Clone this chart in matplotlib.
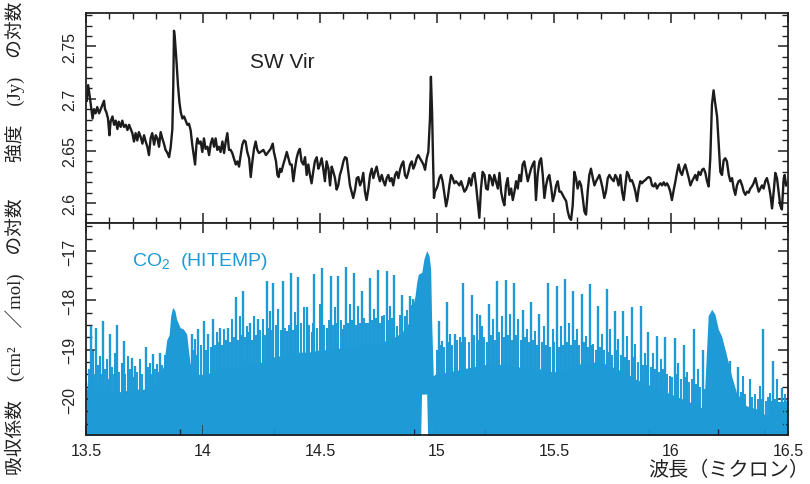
import matplotlib
matplotlib.use("Agg")
import matplotlib.pyplot as plt
from matplotlib.ticker import MultipleLocator

plt.rcParams["font.family"] = ["Liberation Sans", "Noto Sans CJK JP"]
plt.rcParams["mathtext.fontset"] = "custom"
plt.rcParams["mathtext.rm"] = "Liberation Sans"
plt.rcParams["mathtext.it"] = "Liberation Sans"

# ---------------- SW Vir spectrum (log intensity) ----------------
swvir_wavelength = [
    13.503, 13.509, 13.516, 13.523, 13.528, 13.534, 13.541, 13.548, 13.556, 13.563,
    13.570, 13.577, 13.581, 13.587, 13.594, 13.600, 13.605, 13.613, 13.620, 13.627,
    13.634, 13.640, 13.648, 13.655, 13.662, 13.670, 13.677, 13.684, 13.691, 13.698,
    13.705, 13.712, 13.719, 13.726, 13.734, 13.741, 13.748, 13.755, 13.762, 13.769,
    13.776, 13.783, 13.791, 13.798, 13.805, 13.812, 13.819, 13.826, 13.833, 13.840,
    13.848, 13.855, 13.862, 13.869, 13.873, 13.876, 13.880, 13.886, 13.893, 13.899,
    13.905, 13.912, 13.919, 13.926, 13.933, 13.940, 13.947, 13.954, 13.962, 13.966,
    13.972, 13.976, 13.983, 13.990, 13.997, 14.004, 14.011, 14.019, 14.026, 14.033,
    14.040, 14.047, 14.054, 14.061, 14.068, 14.075, 14.083, 14.090, 14.097, 14.104,
    14.111, 14.118, 14.125, 14.132, 14.140, 14.147, 14.154, 14.161, 14.168, 14.175,
    14.182, 14.189, 14.197, 14.204, 14.211, 14.218, 14.225, 14.232, 14.239, 14.246,
    14.258, 14.269, 14.279, 14.289, 14.298, 14.303, 14.312, 14.318, 14.323, 14.329,
    14.335, 14.343, 14.351, 14.358, 14.365, 14.372, 14.379, 14.386, 14.393, 14.400,
    14.407, 14.414, 14.421, 14.429, 14.436, 14.443, 14.450, 14.457, 14.464, 14.471,
    14.478, 14.486, 14.493, 14.500, 14.507, 14.514, 14.521, 14.528, 14.536, 14.543,
    14.550, 14.557, 14.564, 14.571, 14.578, 14.585, 14.593, 14.600, 14.607, 14.614,
    14.621, 14.628, 14.635, 14.642, 14.650, 14.657, 14.664, 14.671, 14.678, 14.685,
    14.692, 14.699, 14.707, 14.714, 14.721, 14.728, 14.735, 14.742, 14.749, 14.756,
    14.764, 14.771, 14.778, 14.785, 14.792, 14.799, 14.806, 14.813, 14.821, 14.828,
    14.835, 14.842, 14.849, 14.856, 14.863, 14.870, 14.878, 14.885, 14.892, 14.899,
    14.906, 14.913, 14.920, 14.927, 14.935, 14.942, 14.949, 14.956, 14.963, 14.970,
    14.974, 14.979, 14.983, 14.987, 14.991, 14.998,
    15.003, 15.010, 15.017, 15.024, 15.032, 15.039, 15.046, 15.053, 15.060, 15.067,
    15.074, 15.081, 15.089, 15.096, 15.103, 15.110, 15.117, 15.124, 15.131, 15.138,
    15.146, 15.153, 15.160, 15.167, 15.174, 15.181, 15.188, 15.195, 15.203, 15.210,
    15.217, 15.224, 15.231, 15.238, 15.245, 15.252, 15.260, 15.267, 15.274, 15.281,
    15.288, 15.295, 15.302, 15.309, 15.317, 15.324, 15.331, 15.338, 15.345, 15.352,
    15.359, 15.366, 15.373, 15.381, 15.388, 15.395, 15.402, 15.409, 15.416, 15.423,
    15.430, 15.438, 15.445, 15.452, 15.459, 15.466, 15.473, 15.480, 15.487, 15.495,
    15.502, 15.509, 15.516, 15.523, 15.530, 15.537, 15.544, 15.552, 15.559, 15.566,
    15.573, 15.580, 15.587, 15.594, 15.601, 15.609, 15.616, 15.623, 15.630, 15.637,
    15.644, 15.651, 15.658, 15.666, 15.673, 15.680, 15.687, 15.694, 15.701, 15.708,
    15.715, 15.722, 15.730, 15.737, 15.744,
    15.755, 15.762, 15.769, 15.776, 15.784, 15.791, 15.798, 15.805, 15.812, 15.819,
    15.826, 15.833, 15.841, 15.848, 15.855, 15.862, 15.869, 15.876, 15.883, 15.890,
    15.898, 15.905, 15.912, 15.919, 15.926, 15.933, 15.940, 15.947, 15.955, 15.962,
    15.969, 15.976, 15.983, 15.990, 15.997, 16.004, 16.012, 16.019, 16.026, 16.033,
    16.040, 16.047, 16.054, 16.061, 16.069, 16.076, 16.083, 16.090, 16.097, 16.104,
    16.111, 16.118, 16.126, 16.133, 16.140, 16.147, 16.154, 16.161, 16.168, 16.175,
    16.182, 16.190, 16.197, 16.204, 16.211, 16.218, 16.225, 16.232, 16.239, 16.247,
    16.254, 16.261, 16.268, 16.275, 16.282, 16.289, 16.296, 16.304, 16.311, 16.318,
    16.325, 16.332, 16.339, 16.346, 16.353, 16.361, 16.368, 16.375, 16.382, 16.389,
    16.396, 16.403, 16.410, 16.418, 16.425, 16.432, 16.439, 16.446, 16.453, 16.460,
    16.467, 16.474, 16.482, 16.486, 16.492,
]
swvir_logflux = [
    2.698, 2.713, 2.702, 2.690, 2.681, 2.690, 2.686, 2.692, 2.686, 2.690,
    2.694, 2.698, 2.690, 2.687, 2.681, 2.665, 2.678, 2.683, 2.675, 2.679,
    2.671, 2.678, 2.673, 2.679, 2.673, 2.675, 2.670, 2.675, 2.671, 2.667,
    2.659, 2.667, 2.660, 2.668, 2.663, 2.657, 2.665, 2.659, 2.654, 2.646,
    2.662, 2.667, 2.656, 2.665, 2.662, 2.654, 2.668, 2.662, 2.657, 2.651,
    2.648, 2.644, 2.654, 2.671, 2.713, 2.765, 2.757, 2.738, 2.713, 2.697,
    2.687, 2.681, 2.683, 2.679, 2.675, 2.676, 2.670, 2.656, 2.643, 2.637,
    2.656, 2.662, 2.657, 2.659, 2.649, 2.662, 2.652, 2.654, 2.646, 2.657,
    2.662, 2.654, 2.662, 2.651, 2.654, 2.649, 2.659, 2.648, 2.659, 2.667,
    2.651, 2.651, 2.648, 2.643, 2.637, 2.640, 2.635, 2.646, 2.656, 2.660,
    2.659, 2.649, 2.643, 2.625, 2.640, 2.652, 2.659, 2.651, 2.648, 2.649,
    2.651, 2.646, 2.649, 2.652, 2.657, 2.649, 2.640, 2.627, 2.625, 2.633,
    2.630, 2.637, 2.643, 2.649, 2.643, 2.637, 2.637, 2.621, 2.633, 2.643,
    2.649, 2.652, 2.640, 2.637, 2.644, 2.627, 2.637, 2.627, 2.619, 2.630,
    2.640, 2.644, 2.633, 2.637, 2.643, 2.633, 2.621, 2.640, 2.633, 2.617,
    2.635, 2.630, 2.624, 2.613, 2.617, 2.627, 2.633, 2.640, 2.644, 2.643,
    2.630, 2.617, 2.611, 2.605, 2.613, 2.624, 2.625, 2.617, 2.621, 2.629,
    2.611, 2.603, 2.614, 2.627, 2.633, 2.624, 2.630, 2.635, 2.627, 2.621,
    2.627, 2.621, 2.617, 2.624, 2.627, 2.621, 2.624, 2.617, 2.627, 2.630,
    2.624, 2.632, 2.637, 2.640, 2.627, 2.624, 2.630, 2.637, 2.640, 2.633,
    2.637, 2.643, 2.646, 2.643, 2.640, 2.637, 2.632, 2.643, 2.649, 2.681,
    2.721, 2.687, 2.643, 2.605, 2.611, 2.614,
    2.617, 2.624, 2.627, 2.621, 2.608, 2.597, 2.605, 2.617, 2.627, 2.624,
    2.619, 2.621, 2.619, 2.617, 2.621, 2.616, 2.611, 2.613, 2.617, 2.624,
    2.617, 2.627, 2.629, 2.617, 2.602, 2.586, 2.614, 2.630, 2.627, 2.614,
    2.613, 2.627, 2.624, 2.617, 2.627, 2.621, 2.614, 2.629, 2.611, 2.603,
    2.598, 2.617, 2.624, 2.608, 2.614, 2.603, 2.611, 2.621, 2.614, 2.627,
    2.621, 2.637, 2.640, 2.630, 2.621, 2.627, 2.633, 2.637, 2.640, 2.603,
    2.627, 2.640, 2.643, 2.627, 2.605, 2.617, 2.624, 2.627, 2.617, 2.602,
    2.608, 2.617, 2.621, 2.611, 2.611, 2.608, 2.605, 2.602, 2.592, 2.586,
    2.584, 2.598, 2.630, 2.624, 2.614, 2.621, 2.617, 2.605, 2.592, 2.589,
    2.611, 2.627, 2.633, 2.624, 2.617, 2.621, 2.624, 2.627, 2.621, 2.614,
    2.605, 2.611, 2.624, 2.627, 2.624,
    2.621, 2.627, 2.624, 2.617, 2.627, 2.611, 2.603, 2.617, 2.630, 2.627,
    2.621, 2.622, 2.617, 2.611, 2.602, 2.614, 2.621, 2.619, 2.621, 2.622,
    2.624, 2.625, 2.624, 2.617, 2.616, 2.619, 2.614, 2.617, 2.619, 2.617,
    2.620, 2.617, 2.619, 2.616, 2.611, 2.603, 2.613, 2.621, 2.630, 2.637,
    2.630, 2.627, 2.633, 2.637, 2.630, 2.624, 2.617, 2.621, 2.624, 2.627,
    2.622, 2.630, 2.627, 2.632, 2.633, 2.629, 2.621, 2.616, 2.643, 2.694,
    2.708, 2.694, 2.683, 2.656, 2.630, 2.627, 2.641, 2.643, 2.640, 2.627,
    2.621, 2.624, 2.614, 2.608, 2.617, 2.621, 2.622, 2.617, 2.611, 2.608,
    2.611, 2.610, 2.614, 2.616, 2.619, 2.624, 2.617, 2.611, 2.614, 2.617,
    2.614, 2.621, 2.624, 2.617, 2.608, 2.595, 2.611, 2.629, 2.624, 2.611,
    2.598, 2.594, 2.624, 2.627, 2.617,
]

# ---------------- CO2 line list (HITEMP), log absorption coefficient ----------------
# strongest P/R-branch lines
co2_strong_wavelength = [
    13.520, 13.543, 13.574, 13.603, 13.634, 13.662, 13.695, 13.709, 13.756, 13.788,
    13.816, 13.952, 13.980, 14.004, 14.023, 14.044, 14.073, 14.108, 14.141, 14.172,
    14.201, 14.236, 14.272, 14.301, 14.340, 14.376, 14.407, 14.443, 14.476, 14.510,
    14.546, 14.578, 14.611, 14.645, 14.679, 14.714, 14.749, 14.785, 14.818, 14.852,
    14.885, 15.010, 15.041, 15.077, 15.112, 15.148, 15.184, 15.224, 15.258, 15.295,
    15.329, 15.366, 15.401, 15.437, 15.476, 15.511, 15.547, 15.583, 15.618, 15.654,
    15.689, 15.725, 15.761, 15.796, 15.832, 15.870, 15.903, 15.939, 15.975, 16.017,
    16.056, 16.098, 16.135, 16.252, 16.288, 16.395, 16.437, 16.473,
]
co2_strong_logk = [
    -18.51, -18.55, -18.41, -18.68, -18.50, -18.82, -19.16, -19.33, -18.95, -19.09,
    -19.06, -18.68, -18.58, -18.41, -18.68, -18.38, -18.55, -18.55, -17.94, -17.80,
    -18.45, -18.38, -17.60, -17.64, -17.60, -17.45, -17.53, -18.14, -17.47, -17.35,
    -17.51, -17.51, -17.33, -17.45, -17.80, -17.55, -17.38, -17.41, -17.49, -17.89,
    -17.91, -18.41, -18.04, -18.68, -17.64, -17.89, -18.30, -18.08, -17.60, -17.58,
    -17.65, -18.20, -18.04, -18.28, -17.64, -17.70, -17.57, -17.80, -17.87, -17.67,
    -18.11, -17.77, -18.21, -18.21, -18.14, -18.11, -18.65, -18.72, -18.75, -18.77,
    -18.91, -18.58, -19.01, -19.22, -19.36, -18.58, -19.22, -19.77,
]
# second-tier lines between them
co2_medium_wavelength = [
    13.531, 13.560, 13.588, 13.624, 13.652, 13.681, 13.731, 13.774, 13.802, 13.966,
    14.058, 14.090, 14.123, 14.158, 14.187, 14.218, 14.255, 14.286, 14.322, 14.358,
    14.393, 14.432, 14.464, 14.500, 14.528, 14.564, 14.597, 14.628, 14.664, 14.697,
    14.731, 14.764, 14.799, 14.828, 14.863, 14.899, 15.020, 15.056, 15.098, 15.170,
    15.191, 15.241, 15.276, 15.312, 15.347, 15.383, 15.419, 15.457, 15.494, 15.528,
    15.565, 15.599, 15.637, 15.668, 15.704, 15.739, 15.775, 15.813, 15.846, 15.889,
    15.924, 15.956, 15.996, 16.031, 16.067, 16.117, 16.309, 16.337, 16.380, 16.423,
    16.454,
]
co2_medium_logk = [
    -19.02, -19.12, -19.19, -19.06, -19.26, -19.12, -19.19, -19.26, -19.29, -18.79,
    -18.65, -18.58, -18.38, -18.31, -18.51, -18.31, -18.38, -18.21, -18.18, -18.62,
    -18.24, -18.14, -18.65, -18.08, -18.55, -18.14, -18.58, -18.08, -18.11, -18.45,
    -18.18, -18.31, -18.11, -18.51, -18.31, -17.97, -18.82, -18.68, -18.75, -18.28,
    -18.51, -18.38, -18.31, -18.28, -18.38, -18.58, -18.62, -18.51, -18.58, -18.51,
    -18.45, -18.58, -18.72, -18.89, -18.68, -18.58, -18.79, -18.72, -18.89, -19.06,
    -19.06, -19.19, -19.53, -19.26, -19.46, -19.39, -19.53, -19.60, -19.73, -19.87,
    -19.60,
]
# weaker lines that make up the ragged top of the blend
co2_weak_wavelength = [
    13.512, 13.537, 13.552, 13.567, 13.582, 13.596, 13.612, 13.618, 13.643, 13.668,
    13.688, 13.702, 13.718, 13.740, 13.765, 13.781, 13.795, 13.808, 13.823, 13.838,
    13.958, 13.972, 13.990, 14.012, 14.032, 14.051, 14.065, 14.081, 14.098, 14.115,
    14.131, 14.149, 14.165, 14.180, 14.194, 14.210, 14.226, 14.245, 14.263, 14.279,
    14.294, 14.312, 14.334, 14.349, 14.367, 14.385, 14.400, 14.418, 14.452, 14.470,
    14.488, 14.518, 14.537, 14.555, 14.571, 14.588, 14.604, 14.620, 14.637, 14.654,
    14.672, 14.688, 14.706, 14.722, 14.740, 14.756, 14.775, 14.792, 14.809, 14.840,
    14.870, 14.892, 15.000, 15.015, 15.028, 15.048, 15.066, 15.087, 15.105, 15.120,
    15.136, 15.157, 15.178, 15.200, 15.212, 15.232, 15.250, 15.266, 15.286, 15.304,
    15.320, 15.338, 15.357, 15.374, 15.392, 15.410, 15.428, 15.447, 15.466, 15.484,
    15.502, 15.520, 15.537, 15.556, 15.574, 15.591, 15.609, 15.628, 15.646, 15.661,
    15.679, 15.697, 15.714, 15.732, 15.750, 15.768, 15.786, 15.805, 15.822, 15.840,
    15.857, 15.880, 15.896, 15.914, 15.931, 15.948, 15.966, 15.985, 16.005, 16.024,
    16.042, 16.061, 16.078, 16.088, 16.107, 16.126, 16.145, 16.268, 16.300, 16.318,
    16.345, 16.360, 16.372, 16.388, 16.405, 16.416, 16.430, 16.446, 16.462, 16.488,
]
co2_weak_logk = [
    -19.40, -19.50, -19.30, -19.50, -19.40, -19.60, -19.35, -19.50, -19.45, -19.50,
    -19.40, -19.55, -19.45, -19.50, -19.35, -19.50, -19.40, -19.45, -19.30, -19.10,
    -19.00, -19.10, -18.90, -19.00, -18.95, -18.90, -18.85, -18.90, -18.80, -18.85,
    -18.75, -18.80, -18.70, -18.75, -18.65, -18.80, -18.70, -18.60, -18.70, -18.55,
    -18.60, -18.50, -18.60, -18.55, -18.50, -18.60, -18.50, -18.45, -18.50, -18.45,
    -18.55, -18.50, -18.40, -18.50, -18.45, -18.40, -18.50, -18.45, -18.40, -18.50,
    -18.45, -18.35, -18.45, -18.40, -18.35, -18.45, -18.30, -18.40, -18.35, -18.30,
    -18.20, -18.10, -19.00, -18.90, -18.95, -18.85, -18.90, -18.80, -18.85, -18.75,
    -18.85, -18.70, -18.80, -18.75, -18.85, -18.70, -18.80, -18.65, -18.75, -18.70,
    -18.80, -18.70, -18.80, -18.75, -18.85, -18.80, -18.90, -18.85, -18.90, -18.95,
    -18.85, -18.95, -18.90, -18.85, -18.90, -18.80, -18.90, -18.85, -18.95, -18.90,
    -19.00, -18.95, -19.00, -19.05, -19.10, -19.00, -19.10, -19.15, -19.20, -19.15,
    -19.25, -19.30, -19.30, -19.35, -19.40, -19.45, -19.40, -19.50, -19.55, -19.50,
    -19.60, -19.55, -19.65, -19.60, -19.70, -19.75, -19.80, -19.80, -19.85, -19.90,
    -19.95, -19.90, -20.00, -20.00, -20.05, -19.95, -20.05, -20.00, -20.10, -19.90,
]
# upper edge of the dense blend of faint lines (incl. the three Q branches)
co2_blend_wavelength = [
    13.500, 13.505, 13.550, 13.600, 13.650, 13.700, 13.750, 13.800, 13.830, 13.845,
    13.855, 13.862, 13.870, 13.880, 13.887, 13.902, 13.916, 13.930, 13.944, 13.960,
    14.000, 14.050, 14.100, 14.150, 14.200, 14.250, 14.300, 14.350, 14.400, 14.450,
    14.500, 14.550, 14.600, 14.650, 14.700, 14.750, 14.800, 14.850, 14.880, 14.906,
    14.913, 14.920, 14.935, 14.944, 14.956, 14.966, 14.973, 14.977, 14.984, 14.990,
    15.050, 15.100, 15.150, 15.200, 15.250, 15.300, 15.350, 15.400, 15.450, 15.500,
    15.550, 15.600, 15.650, 15.700, 15.750, 15.800, 15.850, 15.900, 15.950, 16.000,
    16.050, 16.100, 16.140, 16.159, 16.174, 16.188, 16.202, 16.216, 16.231, 16.245,
    16.259, 16.280, 16.323, 16.366, 16.409, 16.437, 16.480, 16.500,
]
co2_blend_logk = [
    -19.45, -19.80, -19.80, -19.85, -19.85, -19.80, -19.80, -19.65, -19.35, -18.80,
    -18.70, -18.31, -18.14, -18.21, -18.38, -18.55, -18.58, -18.68, -19.26, -19.50,
    -19.50, -19.45, -19.40, -19.35, -19.30, -19.25, -19.15, -19.10, -19.05, -19.05,
    -19.00, -19.00, -18.95, -18.95, -18.90, -18.85, -18.80, -18.65, -18.45, -17.91,
    -17.64, -17.47, -17.43, -17.16, -16.99, -17.09, -17.37, -18.38, -19.53, -19.50,
    -19.45, -19.40, -19.35, -19.30, -19.30, -19.30, -19.35, -19.35, -19.40, -19.45,
    -19.40, -19.30, -19.25, -19.25, -19.35, -19.45, -19.60, -19.70, -19.80, -19.90,
    -20.00, -20.10, -20.20, -18.31, -18.18, -18.28, -18.58, -18.72, -18.99, -19.26,
    -19.53, -19.87, -20.14, -20.20, -20.34, -20.05, -20.05, -20.00,
]
# gap in the faint-line blend under the 15 micron Q branch
co2_gap_wavelength = [14.930, 14.934, 14.956, 14.960]
co2_gap_logk = [-20.80, -19.90, -19.90, -20.80]

x_ticks = [13.5, 14, 14.5, 15, 15.5, 16, 16.5]
x_tick_labels = ["13.5", "14", "14.5", "15", "15.5", "16", "16.5"]
top_y_ticks = [2.6, 2.65, 2.7, 2.75]
top_y_tick_labels = ["2.6", "2.65", "2.7", "2.75"]
bottom_y_ticks = [-20, -19, -18, -17]
bottom_y_tick_labels = ["\u221220", "\u221219", "\u221218", "\u221217"]

BLUE = "#1e9bd7"
LINE = "#1c1c1c"
FLOOR = -21.0

fig = plt.figure(figsize=(8.1, 4.85), dpi=100)
ax1 = fig.add_axes([0.1062, 0.5381, 0.8666, 0.4330])
ax2 = fig.add_axes([0.1062, 0.1010, 0.8666, 0.4371])

# upper panel: stellar spectrum
ax1.plot(swvir_wavelength, swvir_logflux, color=LINE, lw=1.7, solid_joinstyle="round")
ax1.set_xlim(13.5, 16.5)
ax1.set_ylim(2.581, 2.782)
ax1.text(14.2, 2.736, "SW Vir", fontsize=15, color="#222222", va="center", ha="left")

# lower panel: CO2 line strengths
ax2.fill_between(co2_blend_wavelength, FLOOR, co2_blend_logk, color=BLUE, lw=0)
ax2.vlines(co2_weak_wavelength, FLOOR, co2_weak_logk, color=BLUE, lw=1.4)
ax2.vlines(co2_medium_wavelength, FLOOR, co2_medium_logk, color=BLUE, lw=1.5)
ax2.vlines(co2_strong_wavelength, FLOOR, co2_strong_logk, color=BLUE, lw=1.7)
ax2.fill_between(co2_gap_wavelength, FLOOR, co2_gap_logk, color="white", lw=0)
ax2.set_xlim(13.5, 16.5)
ax2.set_ylim(-20.73, -16.43)
ax2.text(13.697, -17.2, r"CO$_2$  (HITEMP)", fontsize=14, color=BLUE, va="center", ha="left")

for ax in (ax1, ax2):
    for s in ax.spines.values():
        s.set_linewidth(1.3)
        s.set_color("#222222")
    ax.tick_params(which="both", direction="in", top=True, right=True, color="#222222",
                   labelsize=11.5, labelcolor="#222222")
    ax.tick_params(which="major", length=7, width=1.1, pad=6)
    ax.tick_params(which="minor", length=4, width=1.0)
    ax.set_xticks(x_ticks)
    ax.xaxis.set_minor_locator(MultipleLocator(0.1))

ax1.set_xticklabels([])
ax2.set_xticklabels(x_tick_labels)
ax1.set_yticks(top_y_ticks, top_y_tick_labels, rotation=90, va="center")
ax1.yaxis.set_minor_locator(MultipleLocator(0.01))
ax2.set_yticks(bottom_y_ticks, bottom_y_tick_labels, rotation=90, va="center")
ax2.yaxis.set_minor_locator(MultipleLocator(0.25))

label_family = ["Liberation Serif", "Noto Sans CJK JP"]
fig.text(0.019, 0.832, "強度\u3000(Jy)\u3000の対数", rotation=90, ha="center", va="center",
         fontsize=13.5, family=label_family, color="#222222")
fig.text(0.019, 0.305, "吸収係数\u3000(cm²\u3000／mol)\u3000の対数", rotation=90, ha="center",
         va="center", fontsize=13.5, family=label_family, color="#222222")
fig.text(0.999, 0.029, "波長（ミクロン）", ha="right", va="center", fontsize=14.5,
         family=["Noto Sans CJK JP"], color="#222222")

fig.savefig("out.png", dpi=100)
